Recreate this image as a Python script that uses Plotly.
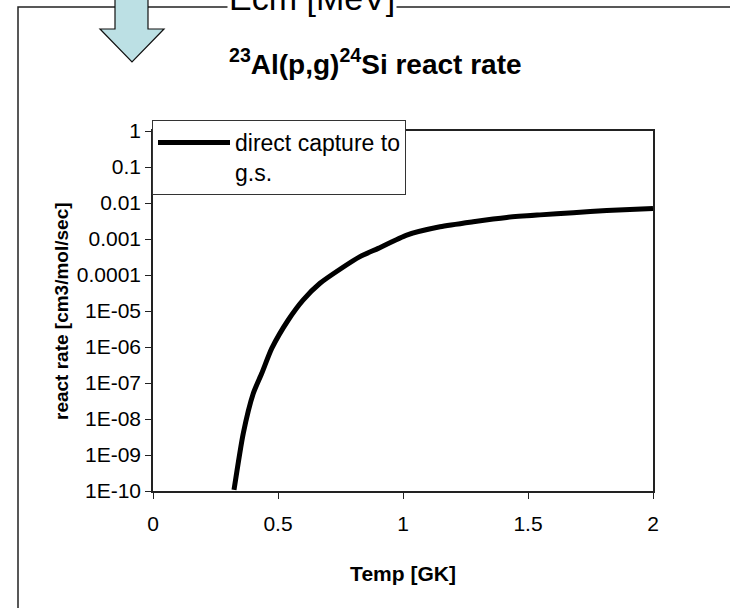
import plotly.graph_objects as go

# Data (T in GK, rate in cm3/mol/sec)
temp_gk = [0.324, 0.361, 0.401, 0.435, 0.475, 0.541, 0.601, 0.668, 0.748, 0.828,
           0.901, 1.015, 1.148, 1.281, 1.415, 1.548, 1.681, 1.815, 2.0]
log_rate = [-9.97, -8.40, -7.29, -6.73, -6.04, -5.25, -4.69, -4.23, -3.84, -3.49,
            -3.26, -2.89, -2.66, -2.52, -2.40, -2.33, -2.27, -2.21, -2.15]
rate = [10 ** v for v in log_rate]

x_tickvals = [0, 0.5, 1, 1.5, 2]
x_ticktext = ["0", "0.5", "1", "1.5", "2"]
y_tickvals = [1, 0.1, 0.01, 0.001, 0.0001, 1e-5, 1e-6, 1e-7, 1e-8, 1e-9, 1e-10]
y_ticktext = ["1", "0.1", "0.01", "0.001", "0.0001", "1E-05", "1E-06", "1E-07",
              "1E-08", "1E-09", "1E-10"]

FONT = "Liberation Sans, Arial, sans-serif"

W, H = 730, 608
L, R, T, B = 153, 77, 131, 117
PW, PH = W - L - R, H - T - B


def px(xp):
    return (xp - L) / PW


def py(yp):
    return (H - B - yp) / PH


fig = go.Figure()
fig.add_trace(go.Scatter(
    x=temp_gk, y=rate, mode="lines", name="direct capture to<br>g.s.",
    line=dict(color="black", width=5, shape="spline", smoothing=0.6),
))

arrow = (f"M {px(115)},{py(-5)} L {px(148)},{py(-5)} L {px(148)},{py(29)} "
         f"L {px(164)},{py(29)} L {px(132)},{py(62)} L {px(100)},{py(29)} "
         f"L {px(115)},{py(29)} Z")

fig.update_layout(
    width=W, height=H,
    margin=dict(l=L, r=R, t=T, b=B),
    paper_bgcolor="white", plot_bgcolor="white",
    font=dict(family=FONT, color="black", size=21),
    showlegend=True,
    legend=dict(x=px(152), y=py(120), xanchor="left", yanchor="top",
                bgcolor="white", bordercolor="#333", borderwidth=1,
                font=dict(family=FONT, size=23, color="black"),
                valign="top", itemwidth=72, tracegroupgap=0),
    xaxis=dict(range=[0, 2], tickvals=x_tickvals, ticktext=x_ticktext,
               showgrid=False, zeroline=False, showline=True,
               linecolor="#222", linewidth=1.5, mirror=True,
               ticks="outside", ticklen=6, tickcolor="#222",
               ticklabelstandoff=7,
               tickfont=dict(family=FONT, size=21),
               title=dict(text="<b>Temp [GK]</b>", font=dict(family=FONT, size=21),
                          standoff=32)),
    yaxis=dict(type="log", range=[-10, 0], tickvals=y_tickvals, ticktext=y_ticktext,
               showgrid=False, zeroline=False, showline=True,
               linecolor="#222", linewidth=1.5, mirror=True,
               ticks="outside", ticklen=6, tickcolor="#222",
               tickfont=dict(family=FONT, size=21)),
    shapes=[
        dict(type="rect", xref="paper", yref="paper",
             x0=px(18), y0=py(640), x1=px(760), y1=py(7),
             line=dict(color="#222", width=1.5), fillcolor="rgba(0,0,0,0)",
             layer="below"),
        dict(type="path", xref="paper", yref="paper", path=arrow,
             fillcolor="#BCE0E4", line=dict(color="#111", width=1.2), layer="above"),
    ],
    annotations=[
        dict(text="Ecm [MeV]", xref="paper", yref="paper", x=px(312), y=py(19),
             xanchor="center", yanchor="bottom", showarrow=False,
             font=dict(family=FONT, size=34, color="black"), bgcolor="white"),
        dict(text="<b><sup>23</sup>Al(p,g)<sup>24</sup>Si react rate</b>",
             xref="paper", yref="paper", x=px(375), y=py(62),
             xanchor="center", yanchor="middle", showarrow=False,
             font=dict(family=FONT, size=28, color="black")),
        dict(text="<b>react rate [cm3/mol/sec]</b>", xref="paper", yref="paper",
             x=px(61), y=py(311), xanchor="center", yanchor="middle",
             textangle=-90, showarrow=False,
             font=dict(family=FONT, size=19, color="black")),
    ],
)

fig.write_html("out.html")
